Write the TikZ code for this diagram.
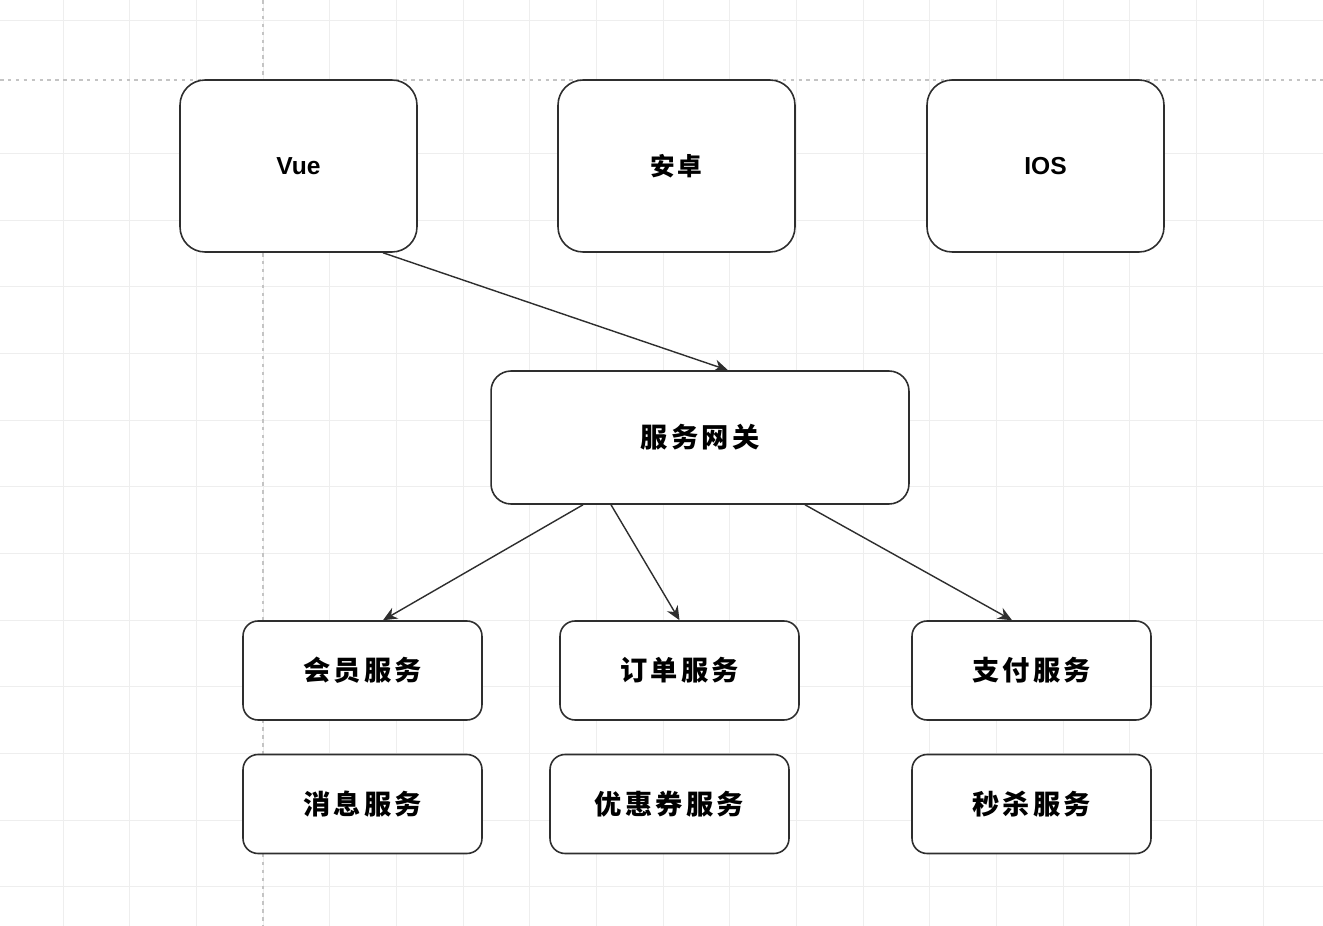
\documentclass[tikz,border=0pt]{standalone}
\usepackage{fontspec}
\setmainfont{Liberation Sans}
\newfontfamily\cjk[LetterSpace=12]{Noto Sans CJK SC}
\usetikzlibrary{arrows.meta}

\definecolor{gridgray}{HTML}{EEEEEE}
\definecolor{pagegray}{HTML}{C4C4C4}
\definecolor{boxline}{HTML}{2E2E2E}

\tikzset{
    gridline/.style={draw=gridgray, line width=0.5pt},
    pageline/.style={draw=pagegray, line width=0.6pt, dash pattern=on 2pt off 2.5pt},
    appbox/.style={draw=boxline, fill=white, line width=0.9pt, rounded corners=0.5cm,
        minimum width=4.74cm, minimum height=3.44cm, inner sep=0pt,
        font=\fontsize{14}{16}\selectfont\bfseries},
    gatebox/.style={draw=boxline, fill=white, line width=0.9pt, rounded corners=0.4cm,
        minimum width=8.36cm, minimum height=2.66cm, inner sep=0pt,
        font=\fontsize{15.5}{19}\selectfont\cjk\bfseries},
    svcbox/.style={draw=boxline, fill=white, line width=0.9pt, rounded corners=0.3cm,
        minimum width=4.78cm, minimum height=1.98cm, inner sep=0pt,
        font=\fontsize{15.5}{19}\selectfont\cjk\bfseries},
    link/.style={draw=boxline, line width=0.8pt, -{Stealth[length=8pt,width=7pt]}}
}

\begin{document}
\begin{tikzpicture}[x=0.02cm, y=-0.02cm]
    % Fix the page size
    \useasboundingbox[fill=white] (0,0) rectangle (1323,926);

    % Draw the background grid
    \foreach \gx in {0,...,19}
        \draw[gridline] ({63+66.67*\gx},0) -- ({63+66.67*\gx},926);
    \foreach \gy in {0,2,3,4,5,6,7,8,9,10,11,12,13}
        \draw[gridline] (0,{20+66.67*\gy}) -- (1323,{20+66.67*\gy});

    % Draw the page borders
    \draw[pageline] (263,0) -- (263,926);
    \draw[pageline] (0,80) -- (1323,80);

    % Place the client boxes
    \node[appbox] (vue) at (298.5,166) {Vue};
    \node[appbox] (android) at (676.5,166) {\cjk 安卓};
    \node[appbox] (ios) at (1045.5,166) {IOS};

    % Place the gateway
    \node[gatebox] (gateway) at (700,437.5) {服务网关};

    % Place the service boxes
    \node[svcbox] (member) at (362.5,670.5) {会员服务};
    \node[svcbox] (order) at (679.5,670.5) {订单服务};
    \node[svcbox] (pay) at (1031.5,670.5) {支付服务};
    \node[svcbox] (message) at (362.5,804) {消息服务};
    \node[svcbox] (coupon) at (669.5,804) {优惠券服务};
    \node[svcbox] (seckill) at (1031.5,804) {秒杀服务};

    % Draw the connectors
    \draw[link] ([xshift=1.69cm]vue.south) -- ([xshift=0.56cm]gateway.north);
    \draw[link] ([xshift=-2.34cm]gateway.south) -- ([xshift=0.41cm]member.north);
    \draw[link] ([xshift=-1.78cm]gateway.south) -- (order.north);
    \draw[link] ([xshift=2.1cm]gateway.south) -- ([xshift=-0.39cm]pay.north);
\end{tikzpicture}
\end{document}
